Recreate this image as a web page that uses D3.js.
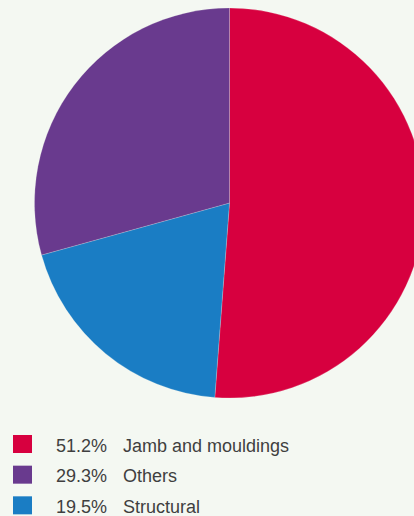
<!DOCTYPE html>
<html><head><meta charset="utf-8">
<script src="https://cdn.jsdelivr.net/npm/d3@7/dist/d3.min.js"></script>
<style>html,body{margin:0;padding:0;background:#f4f8f2;overflow:hidden}</style>
</head><body>
<svg id="c" width="414" height="516"></svg>
<script>
const categories = ["Jamb and mouldings", "Structural", "Others"];
const values = [51.2, 19.5, 29.3];
const colors = ["#d7003f", "#1a7dc4", "#693a8e"];
const legendOrder = ["Jamb and mouldings", "Others", "Structural"];

const svg = d3.select("#c");
const cx = 229.5, cy = 203, r = 195;
const data = categories.map((c, i) => ({cat: c, value: values[i], color: colors[i]}));
const pie = d3.pie().sort(null).value(d => d.value);
const arc = d3.arc().innerRadius(0).outerRadius(r);
svg.append("g").attr("transform", `translate(${cx},${cy})`)
  .selectAll("path").data(pie(data)).join("path")
  .attr("d", arc).attr("fill", d => d.data.color)
  .attr("stroke", "#f4f8f2").attr("stroke-width", 0.4).attr("stroke-opacity", 0.5);

const y = d3.scaleBand().domain(legendOrder).range([434, 526]).paddingInner(0);
const lg = svg.append("g");
legendOrder.forEach(name => {
  const d = data.find(e => e.cat === name);
  const top = y(name);
  lg.append("rect").attr("x", 13).attr("y", top + 1).attr("width", 19).attr("height", 18).attr("fill", d.color);
  lg.append("text").attr("x", 56).attr("y", top + 17.5).text(d.value.toFixed(1) + "%")
    .attr("font-family", "Liberation Sans, Arial, sans-serif").attr("font-size", 18).attr("fill", "#3f3f3f");
  lg.append("text").attr("x", 123).attr("y", top + 17.5).text(name)
    .attr("font-family", "Liberation Sans, Arial, sans-serif").attr("font-size", 18).attr("fill", "#3f3f3f");
});
</script>
</body></html>
